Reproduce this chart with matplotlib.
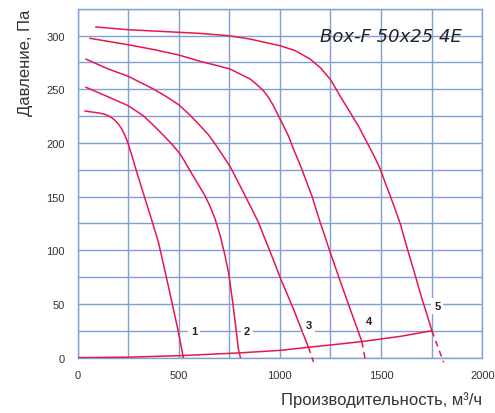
import matplotlib
matplotlib.use("Agg")
import matplotlib.pyplot as plt
from matplotlib.ticker import MultipleLocator

# ---- data ----
c1_x = [37, 100, 130, 160, 182, 202, 220, 235, 251, 272, 293, 314, 334, 367, 400, 433, 466, 495, 523]
c1_y = [229.7, 228, 227, 224.7, 221.5, 217.6, 212.5, 206.7, 199, 186, 172.6, 160, 147.8, 128, 107.4, 80, 52, 27, 0]

c2_x = [42, 150, 251, 325, 372, 420, 463, 507, 532, 556, 593, 630, 656, 680, 705, 729, 746, 757, 768, 781, 795, 805]
c2_y = [251.8, 243, 234.6, 225.3, 217, 208, 199.5, 189.7, 182, 174.1, 162.5, 150.8, 140.5, 129.1, 113.6, 95, 79.5, 65, 50, 30, 8, 0]

c3_x = [42, 150, 251, 375, 440, 502, 555, 606, 645, 680, 717, 754, 791, 828, 861, 894, 918, 943, 972, 1001, 1034, 1067, 1104, 1141]
c3_y = [278, 269, 262, 250.2, 243, 235.3, 226, 216, 208, 199, 188.5, 178, 164.5, 150.8, 138.5, 126, 114.5, 102.8, 89, 74.8, 60, 45.3, 27.5, 9.7]
c3_dash_x = [1141, 1166]
c3_dash_y = [9.7, -4]

c4_x = [62, 251, 375, 502, 605, 680, 754, 853, 885, 919, 945, 968, 1001, 1021, 1042, 1067, 1088, 1108, 1133, 1158, 1179, 1199, 1220, 1240, 1282, 1323, 1364, 1405]
c4_y = [297.4, 291.4, 287, 281.8, 276, 272.5, 268.8, 259.5, 254.5, 248.6, 242, 234.6, 222.3, 214.5, 206.7, 194.3, 185, 175.7, 163, 150.8, 138, 126, 114.5, 102.8, 80, 58, 36.5, 15]
c4_dash_x = [1405, 1422]
c4_dash_y = [15, -2]

c5_x = [91, 251, 502, 605, 749, 853, 1001, 1075, 1150, 1200, 1248, 1275, 1306, 1347, 1390, 1430, 1465, 1496, 1520, 1545, 1570, 1595, 1632, 1668, 1702, 1727, 1751]
c5_y = [308, 305.4, 303, 302, 299.8, 296.7, 290.5, 286, 278, 270, 259.5, 251, 240.9, 228.5, 215, 200.6, 188, 175.7, 163, 150.8, 138, 124.5, 100, 77, 54.7, 40, 25.1]
c5_dash_x = [1751, 1809]
c5_dash_y = [25.1, -4.3]

sys_x = [0, 250, 523, 803, 1000, 1141, 1298, 1405, 1600, 1751]
sys_y = [0, 0.5, 2, 4.5, 6.8, 9.7, 12.8, 15, 20, 25.1]

label_text = ["1", "2", "3", "4", "5"]
label_x = [577, 838, 1145, 1438, 1778]
label_y = [24.6, 24.6, 30.4, 33.9, 48]

title = "Box-F 50x25 4E"
x_ticks = [0, 500, 1000, 1500, 2000]
y_ticks = [0, 50, 100, 150, 200, 250, 300]

# ---- styling ----
plt.rcParams['font.family'] = ['Liberation Sans', 'DejaVu Sans']
RED = "#e8174b"
GRID = "#7f9fd6"
TXT = "#333333"

fig = plt.figure(figsize=(4.95, 4.14), dpi=100)
ax = fig.add_axes([0.1566, 0.1336, 0.9743 - 0.1566, 0.9766 - 0.1336])

ax.set_xlim(0, 2000)
ax.set_ylim(0, 325)
ax.xaxis.set_minor_locator(MultipleLocator(250))
ax.yaxis.set_minor_locator(MultipleLocator(25))
ax.set_xticks(x_ticks)
ax.set_yticks(y_ticks)
ax.grid(True, which="both", color=GRID, linewidth=1.0)
ax.set_axisbelow(True)
for s in ax.spines.values():
    s.set_color(GRID)
    s.set_linewidth(1.0)
ax.tick_params(which="both", length=0)
ax.tick_params(axis="x", pad=9, labelsize=8, labelcolor=TXT)
ax.tick_params(axis="y", pad=9, labelsize=8, labelcolor=TXT)

lw = 1.1
for xs, ys in [(c1_x, c1_y), (c2_x, c2_y), (c3_x, c3_y), (c4_x, c4_y), (c5_x, c5_y)]:
    ax.plot(xs, ys, color=RED, lw=lw, zorder=3, solid_joinstyle="round")
for xs, ys in [(c3_dash_x, c3_dash_y), (c4_dash_x, c4_dash_y), (c5_dash_x, c5_dash_y)]:
    ax.plot(xs, ys, color=RED, lw=lw, ls=(0, (4, 3)), clip_on=False, zorder=3)
ax.plot(sys_x, sys_y, color=RED, lw=lw, zorder=3, solid_joinstyle="round")

for t, x, y in zip(label_text, label_x, label_y):
    ax.text(x, y, t, fontsize=8, fontweight="bold", color="#222222",
            ha="center", va="center", zorder=4,
            bbox=dict(boxstyle="square,pad=0.25", fc="white", ec="none"))

ax.text(1550, 300, title, fontsize=13, style="italic", color="#222222",
        family="DejaVu Sans", ha="center", va="center", zorder=4)

ax.set_xlabel("Производительность, м³/ч", fontsize=12, color=TXT, loc="right", labelpad=8)
ax.set_ylabel("Давление, Па", fontsize=12, color=TXT, loc="top", labelpad=10)

fig.savefig("out.png", dpi=100)
